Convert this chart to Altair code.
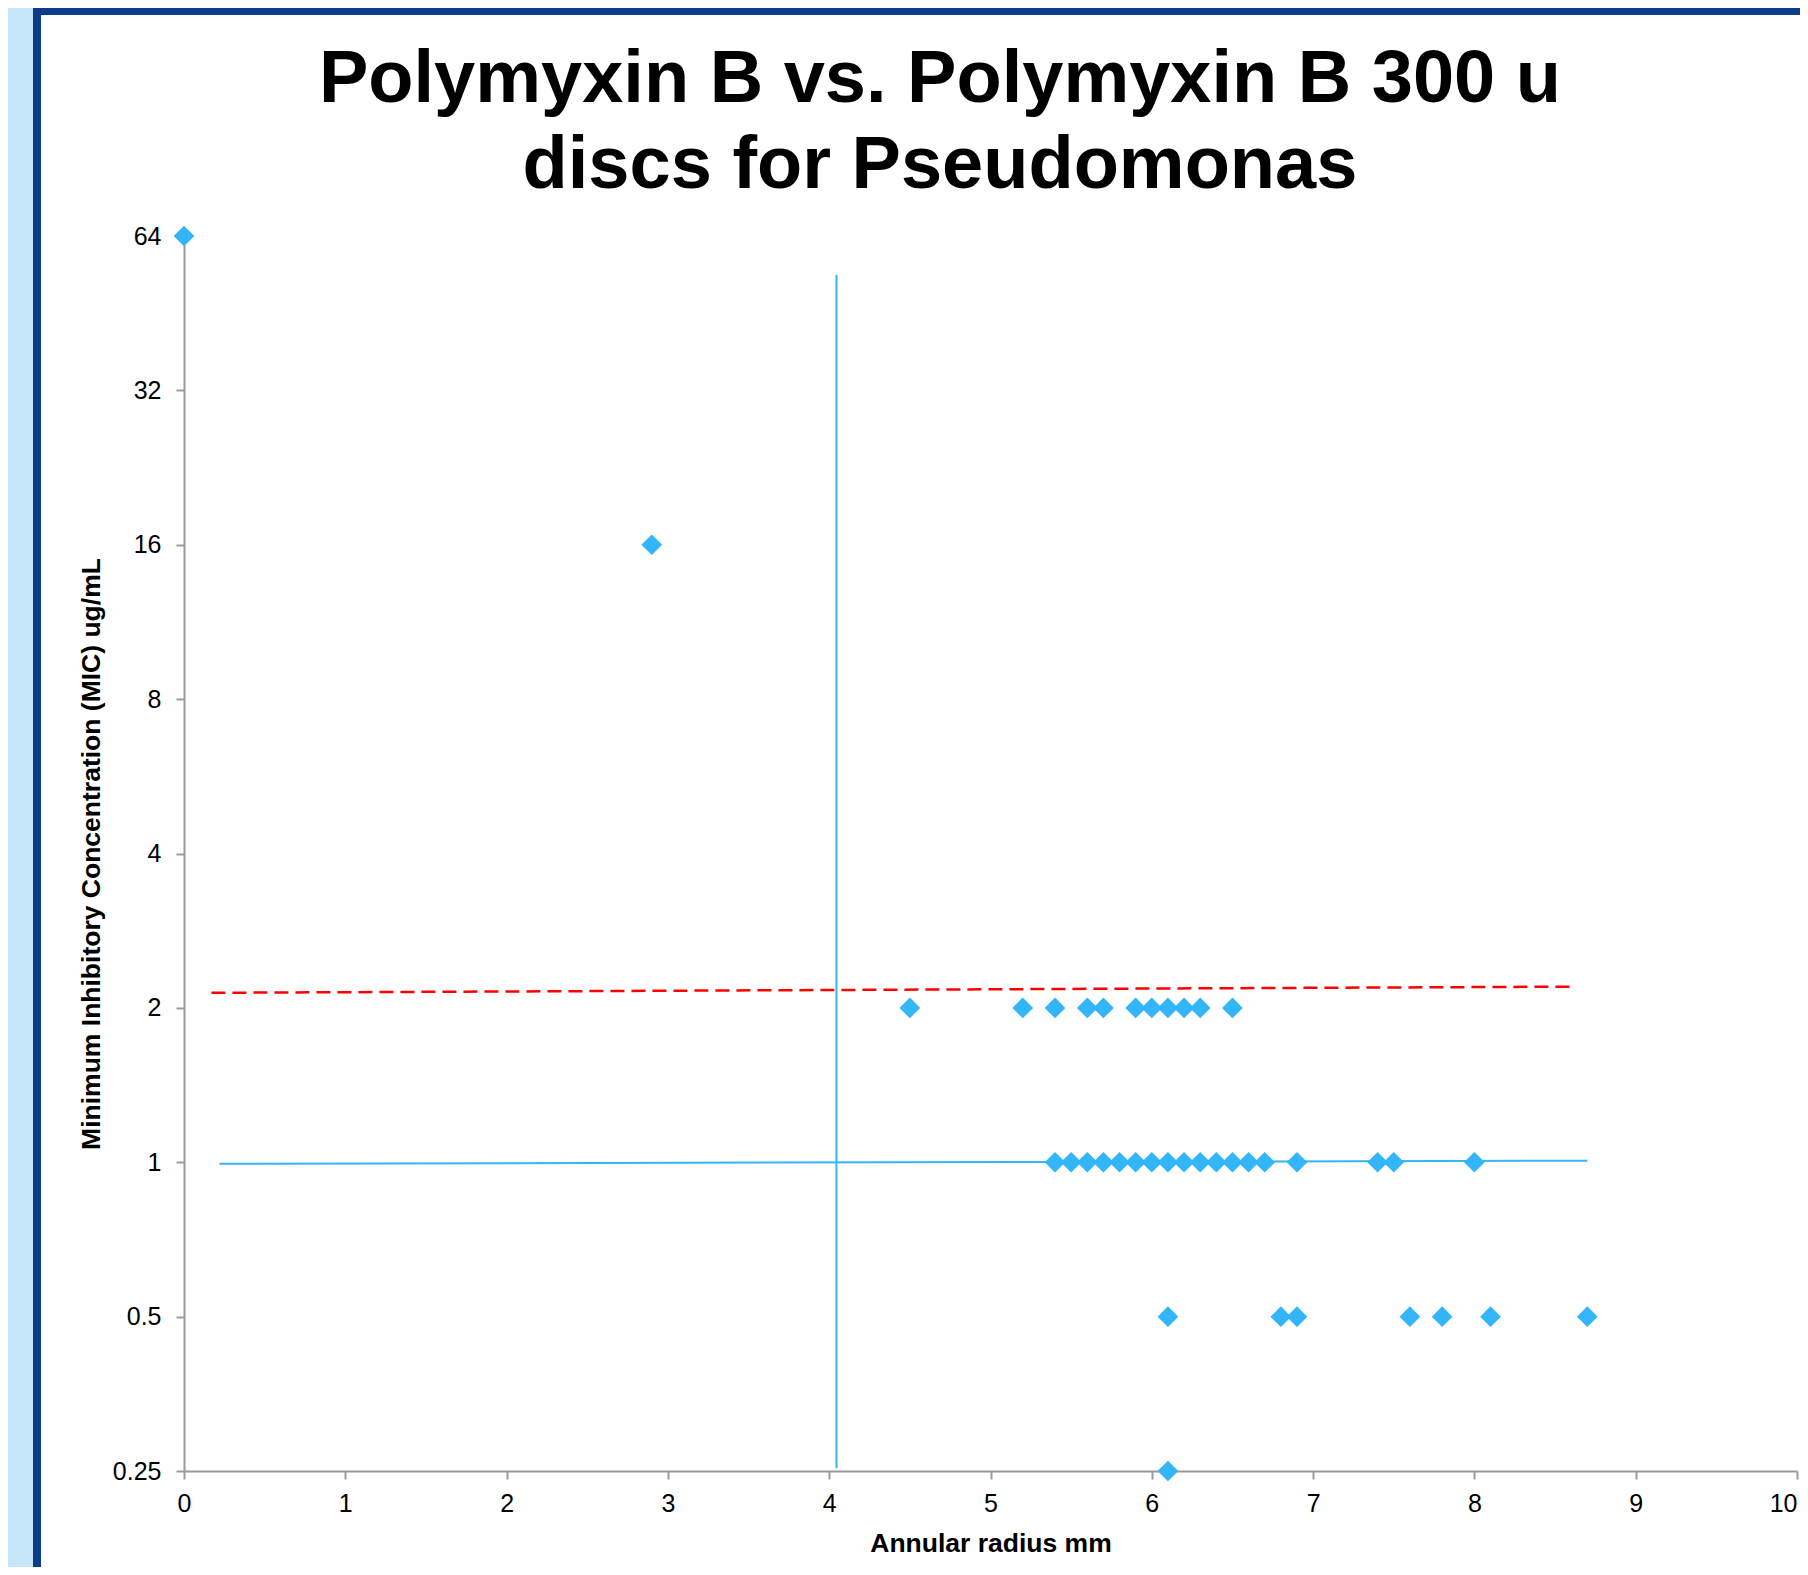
import altair as alt
import pandas as pd

# ---------------- data ----------------
radius_mm = [0.0, 2.9,
             4.5, 5.2, 5.4, 5.6, 5.7, 5.9, 6.0, 6.1, 6.2, 6.3, 6.5,
             5.4, 5.5, 5.6, 5.7, 5.8, 5.9, 6.0, 6.1, 6.2, 6.3, 6.4, 6.5, 6.6, 6.7, 6.9, 7.4, 7.5, 8.0,
             6.1, 6.8, 6.9, 7.6, 7.8, 8.1, 8.7,
             6.1]
mic = [64, 16] + [2] * 11 + [1] * 18 + [0.5] * 7 + [0.25]

breakpoint_x = [4.045, 4.045]
breakpoint_y = [53.7, 0.253]
trend_x = [0.22, 8.7]
trend_y = [0.993, 1.007]
red_x = [0.17, 8.6]
red_y = [2.14, 2.20]

x_ticks = [0, 1, 2, 3, 4, 5, 6, 7, 8, 9, 10]
y_ticks = [0.25, 0.5, 1, 2, 4, 8, 16, 32, 64]
title_lines = ["Polymyxin B vs. Polymyxin B 300 u", "discs for Pseudomonas"]

# ---------------- layout ----------------
W, H = 1613, 1235
PL, PT, PR, PB = 176, 228, 3, 96
FONT = "Liberation Sans"
BLUE = "#33B5FA"
AXIS_GRAY = "#9A9A9A"

pts = pd.DataFrame({"x": radius_mm, "y": mic})
vline = pd.DataFrame({"x": breakpoint_x, "y": breakpoint_y})
tline = pd.DataFrame({"x": trend_x, "y": trend_y})
rline = pd.DataFrame({"x": red_x, "y": red_y})

x_enc = alt.X("x:Q",
              scale=alt.Scale(domain=[0, 10], nice=False, zero=False),
              axis=alt.Axis(values=x_ticks, title="Annular radius mm", grid=False,
                            domainColor=AXIS_GRAY, domainWidth=2, tickColor=AXIS_GRAY,
                            tickWidth=2, tickSize=8, labelFont=FONT, labelFontSize=25,
                            labelColor="black", labelPadding=32, labelBaseline="alphabetic",
                            labelAlign={"expr": "datum.value == 10 ? 'right' : 'center'"},
                            labelFlush=False, labelOverlap=False,
                            titleFont=FONT, titleFontSize=26.5, titleFontWeight="bold",
                            titleColor="black", titleBaseline="alphabetic", titleY=80))
y_enc = alt.Y("y:Q",
              scale=alt.Scale(type="log", base=2, domain=[0.25, 64], nice=False),
              axis=alt.Axis(values=y_ticks, format="~g",
                            title="Minimum Inhibitory Concentration (MIC) ug/mL", grid=False,
                            domainColor=AXIS_GRAY, domainWidth=2, tickColor=AXIS_GRAY,
                            tickWidth=2, tickSize=8, labelFont=FONT, labelFontSize=25,
                            labelColor="black", labelPadding=15, labelOverlap=False,
                            labelFlush=False,
                            titleFont=FONT, titleFontSize=26.5, titleFontWeight="bold",
                            titleColor="black", titleBaseline="alphabetic", titleX=-84.5))

one = alt.Data(values=[{"a": 1}])

# decorative frame (light blue strip + dark blue border)
light = alt.Chart(one).mark_rect(color="#C6E6FA").encode(
    x=alt.value(-PL), x2=alt.value(-PL + 25), y=alt.value(-PT), y2=alt.value(H + PB))
dark_left = alt.Chart(one).mark_rect(color="#0B3D8B").encode(
    x=alt.value(-PL + 25), x2=alt.value(-PL + 33), y=alt.value(-PT), y2=alt.value(H + PB))
dark_top = alt.Chart(one).mark_rect(color="#0B3D8B").encode(
    x=alt.value(-PL + 25), x2=alt.value(W + PR), y=alt.value(-PT), y2=alt.value(-PT + 7))

title_layers = []
for line, yb in zip(title_lines, [-134, -48]):
    title_layers.append(
        alt.Chart(alt.Data(values=[{"t": line}])).mark_text(
            font=FONT, fontSize=74, fontWeight="bold", color="black",
            align="center", baseline="alphabetic"
        ).encode(text="t:N", x=alt.value(756), y=alt.value(yb))
    )

vl = alt.Chart(vline).mark_line(color=BLUE, strokeWidth=2).encode(x=x_enc, y=y_enc)
tl = alt.Chart(tline).mark_line(color=BLUE, strokeWidth=2).encode(x=x_enc, y=y_enc)
rl = alt.Chart(rline).mark_line(color="#FF0000", strokeWidth=2.5, strokeDash=[14, 7]).encode(x=x_enc, y=y_enc)
points = alt.Chart(pts).mark_point(shape="diamond", filled=True, size=430, color=BLUE,
                                   opacity=1).encode(x=x_enc, y=y_enc)

chart = alt.layer(light, dark_left, dark_top, *title_layers, vl, tl, rl, points).properties(
    width=W, height=H,
    padding={"left": PL, "top": PT, "right": PR, "bottom": PB},
    autosize=alt.AutoSizeParams(type="none"),
    background="white",
).configure_view(strokeWidth=0)

chart.save("out.html", embed_options={"renderer": "svg", "actions": False})
